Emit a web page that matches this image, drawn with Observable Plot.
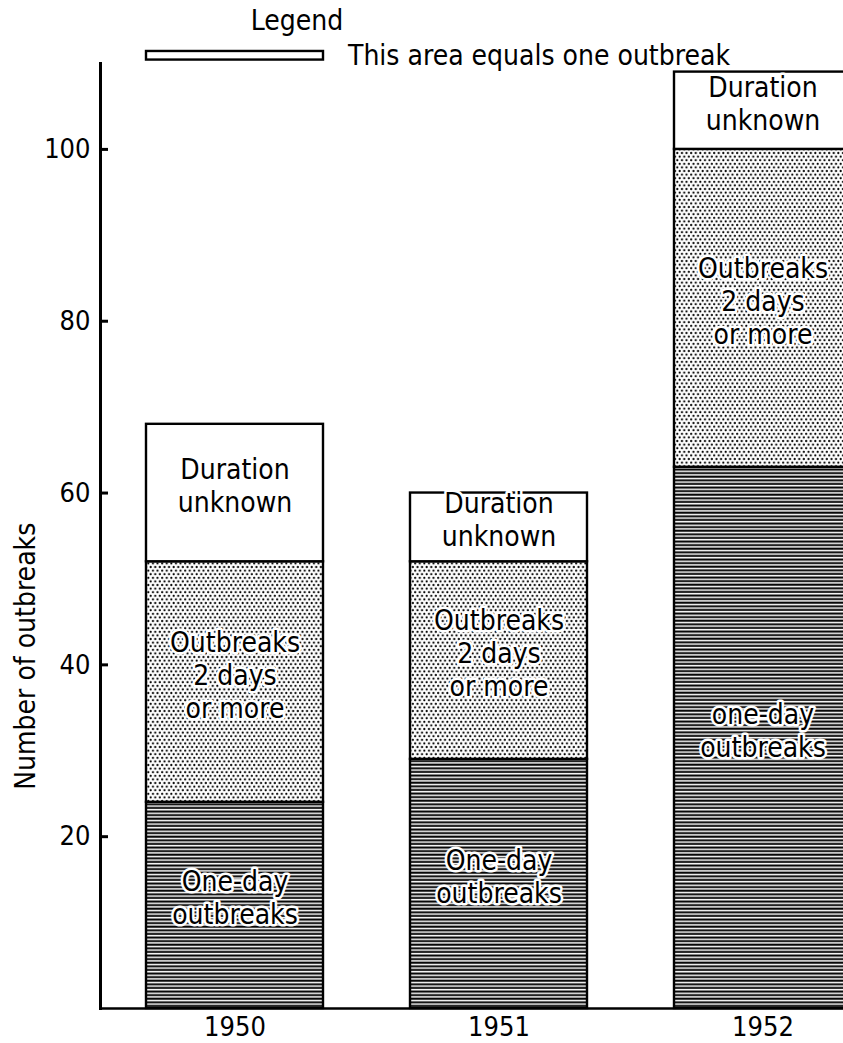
<!DOCTYPE html>
<html><head><meta charset="utf-8">
<script src="https://cdn.jsdelivr.net/npm/d3@7"></script>
<script src="https://cdn.jsdelivr.net/npm/@observablehq/plot@0.6"></script>
<style>
body{margin:0;background:#fff;}
#chart svg{display:block;}
</style></head><body><div id="chart"></div>
<script>
// ---- data ----
const years = ["1950", "1951", "1952"];
const categories = ["One-day outbreaks", "Outbreaks 2 days or more", "Duration unknown"];
const oneDay = [24, 29, 63];
const twoDaysOrMore = [28, 23, 37];
const durationUnknown = [16, 8, 9];
const oneDayLabels = ["One-day\noutbreaks", "One-day\noutbreaks", "one-day\noutbreaks"];
const twoDaysLabels = ["Outbreaks\n2 days\nor more", "Outbreaks\n2 days\nor more", "Outbreaks\n2 days\nor more"];
const unknownLabels = ["Duration\nunknown", "Duration\nunknown", "Duration\nunknown"];
const yTicks = [20, 40, 60, 80, 100];
const yLabel = "Number of outbreaks";
const legendTitle = "Legend";
const legendText = "This area equals one outbreak";
const legendUnit = [1]; // one outbreak

// ---- table ----
const series = [oneDay, twoDaysOrMore, durationUnknown];
const labelSets = [oneDayLabels, twoDaysLabels, unknownLabels];
const table = years.flatMap((year, i) => categories.map((category, j) => ({
  year, category, count: series[j][i], label: labelSets[j][i]
})));

const W = 843, H = 1043;
const yMax = 110;
const legendBase = yMax + 0.4;
const yLabelAt = 41;
const font = "'DejaVu Sans Condensed', 'DejaVu Sans', sans-serif";

const plot = Plot.plot({
  width: W, height: H,
  marginLeft: 100, marginRight: 0, marginTop: 63, marginBottom: 35,
  style: {fontFamily: font, background: "white", color: "black", overflow: "visible"},
  x: {domain: years, range: [100, 898], paddingInner: 0.328, paddingOuter: 0.17, align: 0.5, label: null},
  y: {domain: [0, yMax], label: null},
  color: {domain: categories, range: ["url(#hlines)", "url(#dots)", "white"]},
  marks: [
    Plot.barY(table, {x: "year", y: "count", fill: "category", stroke: "black", strokeWidth: 2.4}),
    Plot.text(table, Plot.stackY({x: "year", y: "count", text: "label", fontSize: 28, lineHeight: 1.18,
      dy: -8, fill: "black", stroke: "white", strokeWidth: 5})),
    // legend
    Plot.barY(legendUnit, {x: () => years[0], y1: () => legendBase, y2: d => legendBase + d, fill: "white", stroke: "black", strokeWidth: 2.4}),
    Plot.text([legendText], {x: () => years[0], y: () => legendBase + 0.5, text: d => d, textAnchor: "start", dx: 113, fontSize: 28}),
    Plot.text([legendTitle], {x: () => years[0], y: () => legendBase + 0.5, text: d => d, dx: 62, dy: -35, fontSize: 28}),
    // axes
    Plot.frame({anchor: "left", strokeWidth: 3}),
    Plot.ruleY([0], {strokeWidth: 2.5}),
    Plot.tickY(yTicks, {y: d => d, insetRight: W - 100 - 8, strokeWidth: 3}),
    Plot.axisY(yTicks, {tickSize: 0, tickPadding: 10, fontSize: 27, label: null}),
    Plot.text([yLabel], {y: () => yLabelAt, frameAnchor: "left", textAnchor: "middle", rotate: -90, dx: -74, text: d => d, fontSize: 28}),
    Plot.axisX({tickSize: 0, tickPadding: 8, fontSize: 27, label: null})
  ]
});

const defs = d3.select(plot).insert("defs", ":first-child");
const p1 = defs.append("pattern").attr("id", "hlines").attr("patternUnits", "userSpaceOnUse")
  .attr("width", 8).attr("height", 3.6);
p1.append("rect").attr("width", 8).attr("height", 3.6).attr("fill", "white");
p1.append("rect").attr("y", 0.5).attr("width", 8).attr("height", 2.0).attr("fill", "black");
const p2 = defs.append("pattern").attr("id", "dots").attr("patternUnits", "userSpaceOnUse")
  .attr("width", 4.6).attr("height", 7.2);
p2.append("rect").attr("width", 4.6).attr("height", 7.2).attr("fill", "white");
p2.append("circle").attr("cx", 1.15).attr("cy", 1.8).attr("r", 1.1).attr("fill", "black");
p2.append("circle").attr("cx", 3.45).attr("cy", 5.4).attr("r", 1.1).attr("fill", "black");

document.getElementById("chart").appendChild(plot);
</script></body></html>
